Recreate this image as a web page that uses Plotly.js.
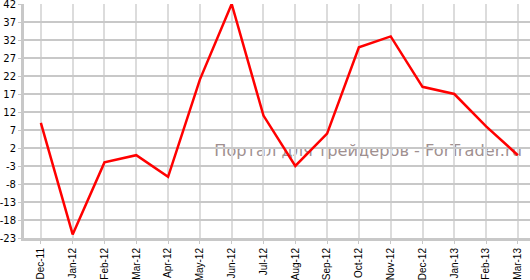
<!DOCTYPE html>
<html><head><meta charset="utf-8">
<script src="https://cdn.plot.ly/plotly-3.0.1.min.js"></script>
<style>html,body{margin:0;padding:0;background:#fff}</style>
</head><body><div id="chart" style="width:530px;height:280px"></div>
<script>
const months = ["Dec-11","Jan-12","Feb-12","Mar-12","Apr-12","May-12","Jun-12","Jul-12","Aug-12","Sep-12","Oct-12","Nov-12","Dec-12","Jan-13","Feb-13","Mar-13"];
const values = [9,-22,-2,0,-6,21,42,11,-3,6,30,33,19,17,8,0];
const yTicks = [-23,-18,-13,-8,-3,2,7,12,17,22,27,32,37,42];
const watermark = "Портал для трейдеров - ForTrader.ru";

Plotly.newPlot("chart", [{
  x: months, y: values, type: "scatter", mode: "lines",
  line: {color: "#ff0000", width: 2.5}, hoverinfo: "none", cliponaxis: false
}], {
  width: 530, height: 280,
  margin: {l: 24, r: 0, t: 4, b: 42},
  paper_bgcolor: "#fff", plot_bgcolor: "#fff",
  showlegend: false,
  xaxis: {
    type: "category", range: [-0.53, 15.38],
    showgrid: true, gridcolor: "#dcdcdc", gridwidth: 2,
    showline: true, linecolor: "#c8c8c8", linewidth: 3,
    ticks: "outside", ticklen: 3, tickcolor: "#c8c8c8",
    tickangle: -90, tickfont: {family: "Liberation Sans, Arial", size: 10, color: "#000"},
    zeroline: false, fixedrange: true, ticklabeloverflow: "allow"
  },
  yaxis: {
    range: [-23, 42], tickvals: yTicks, ticktext: yTicks.map(String),
    showgrid: true, gridcolor: "#c8c8c8", gridwidth: 1.5,
    showline: true, linecolor: "#c8c8c8", linewidth: 3,
    ticks: "outside", ticklen: 3, tickcolor: "#c8c8c8",
    tickfont: {family: "DejaVu Sans, Verdana", size: 10, color: "#000"},
    zeroline: false, fixedrange: true, ticklabeloverflow: "allow"
  },
  shapes: [{
    type: "rect", xref: "paper", yref: "paper", layer: "between",
    x0: 0.48, x1: 0.88, y0: 0.335, y1: 0.425,
    line: {width: 0}, fillcolor: "rgba(0,0,0,0)",
    label: {text: watermark, textposition: "middle center",
      font: {family: "DejaVu Sans, Verdana", size: 16.2, color: "#a09090"}}
  }]
}, {staticPlot: true});
</script></body></html>
